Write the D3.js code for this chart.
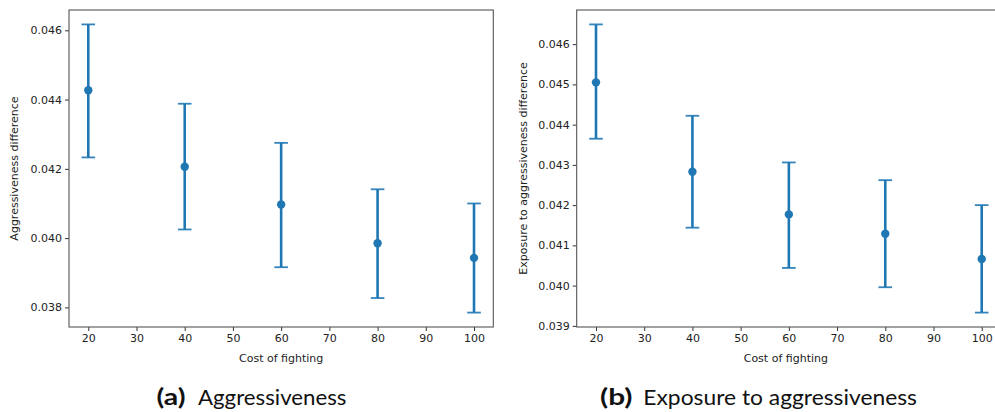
<!DOCTYPE html>
<html lang="en">
<head>
<meta charset="utf-8">
<title>Cost of fighting</title>
<script src="https://cdn.jsdelivr.net/npm/d3@7"></script>
<style>
  body { margin: 0; background: #fff; }
  svg { display: block; }
  .tick text { font-family: "DejaVu Sans", sans-serif; font-size: 11px; fill: #222; }
  .tick line { stroke: #333; }
  .lbl { font-family: "DejaVu Sans", sans-serif; font-size: 11px; fill: #222; }
  .cap { font-family: Lato, "Open Sans", sans-serif; font-size: 22px; fill: #111; }
</style>
</head>
<body>
<script>
// values
var costs = [20, 40, 60, 80, 100];
var xTicks = [20, 30, 40, 50, 60, 70, 80, 90, 100];

var aggMean = [0.04427, 0.04206, 0.04097, 0.03985, 0.03943];
var aggLow  = [0.04233, 0.04025, 0.03916, 0.03827, 0.03785];
var aggHigh = [0.04617, 0.04388, 0.04275, 0.04141, 0.04100];
var aggTicks = [0.038, 0.040, 0.042, 0.044, 0.046];

var expMean = [0.04505, 0.04283, 0.04177, 0.04129, 0.04066];
var expLow  = [0.04365, 0.04144, 0.04044, 0.03996, 0.03933];
var expHigh = [0.04649, 0.04422, 0.04306, 0.04262, 0.04200];
var expTicks = [0.039, 0.040, 0.041, 0.042, 0.043, 0.044, 0.045, 0.046];

var W = 995, H = 412;
var blue = "#1f77b4";

var svg = d3.select("body").append("svg")
    .attr("width", W)
    .attr("height", H);

function panel(opt) {
  var g = svg.append("g");

  var x = d3.scaleLinear().domain([16, 104]).range([opt.left, opt.right]);
  var lo = d3.min(opt.low), hi = d3.max(opt.high);
  var m = (hi - lo) * 0.05;
  var y = d3.scaleLinear().domain([lo - m, hi + m]).range([opt.bottom, opt.top]);

  // axes
  var xa = g.append("g")
      .attr("transform", "translate(0," + opt.bottom + ")")
      .call(d3.axisBottom(x).tickValues(xTicks).tickSize(4).tickPadding(3).tickFormat(d3.format("d")));
  var ya = g.append("g")
      .attr("transform", "translate(" + opt.left + ",0)")
      .call(d3.axisLeft(y).tickValues(opt.ticks).tickSize(4).tickPadding(3).tickFormat(d3.format(".3f")));
  xa.select(".domain").remove();
  ya.select(".domain").remove();
  g.selectAll(".tick text").attr("font-family", null).attr("font-size", null);

  // frame
  g.append("rect")
      .attr("x", opt.left).attr("y", opt.top)
      .attr("width", opt.right - opt.left).attr("height", opt.bottom - opt.top)
      .attr("fill", "none").attr("stroke", "#555").attr("stroke-width", 1.1);

  var rows = costs.map(function(c, i) {
    return { c: c, m: opt.mean[i], lo: opt.low[i], hi: opt.high[i] };
  });

  var bars = g.selectAll("g.bar").data(rows).enter().append("g").attr("class", "bar");
  bars.append("line")
      .attr("x1", d => x(d.c)).attr("x2", d => x(d.c))
      .attr("y1", d => y(d.lo)).attr("y2", d => y(d.hi))
      .attr("stroke", blue).attr("stroke-width", 2.6);
  ["lo", "hi"].forEach(function(k) {
    bars.append("line")
        .attr("x1", d => x(d.c) - 6.8).attr("x2", d => x(d.c) + 6.8)
        .attr("y1", d => y(d[k])).attr("y2", d => y(d[k]))
        .attr("stroke", blue).attr("stroke-width", 1.8).attr("stroke-opacity", 0.9);
  });
  bars.append("circle")
      .attr("cx", d => x(d.c)).attr("cy", d => y(d.m))
      .attr("r", 4.2).attr("fill", blue);

  // axis labels
  g.append("text").attr("class", "lbl")
      .attr("x", (opt.left + opt.right) / 2 - (opt.right > W ? 3 : 0))
      .attr("y", 361.5)
      .attr("text-anchor", "middle")
      .text("Cost of fighting");
  g.append("text").attr("class", "lbl")
      .attr("transform", "translate(" + opt.ylx + "," + (opt.top + opt.bottom) / 2 + ") rotate(-90)")
      .attr("text-anchor", "middle")
      .attr("dy", "0.35em")
      .text(opt.ylabel);

  // caption
  var cap = g.append("text").attr("class", "cap").attr("y", 405);
  cap.append("tspan").attr("x", opt.capX).attr("font-weight", "bold")
      .attr("textLength", opt.tagW).attr("lengthAdjust", "spacingAndGlyphs")
      .text(opt.tag);
  cap.append("tspan").attr("x", opt.capX2)
      .attr("textLength", opt.capW).attr("lengthAdjust", "spacingAndGlyphs")
      .text(opt.caption);
}

panel({
  left: 69, right: 493.3, top: 10, bottom: 327,
  mean: aggMean, low: aggLow, high: aggHigh, ticks: aggTicks,
  ylabel: "Aggressiveness difference", ylx: 14,
  tag: "(a)", capX: 156.5, tagW: 29, capX2: 198, capW: 148.5, caption: "Aggressiveness"
});

panel({
  left: 576.7, right: 1001, top: 10, bottom: 327,
  mean: expMean, low: expLow, high: expHigh, ticks: expTicks,
  ylabel: "Exposure to aggressiveness difference", ylx: 522.7,
  tag: "(b)", capX: 600, tagW: 32.5, capX2: 643.3, capW: 273.7, caption: "Exposure to aggressiveness"
});
</script>
</body>
</html>
